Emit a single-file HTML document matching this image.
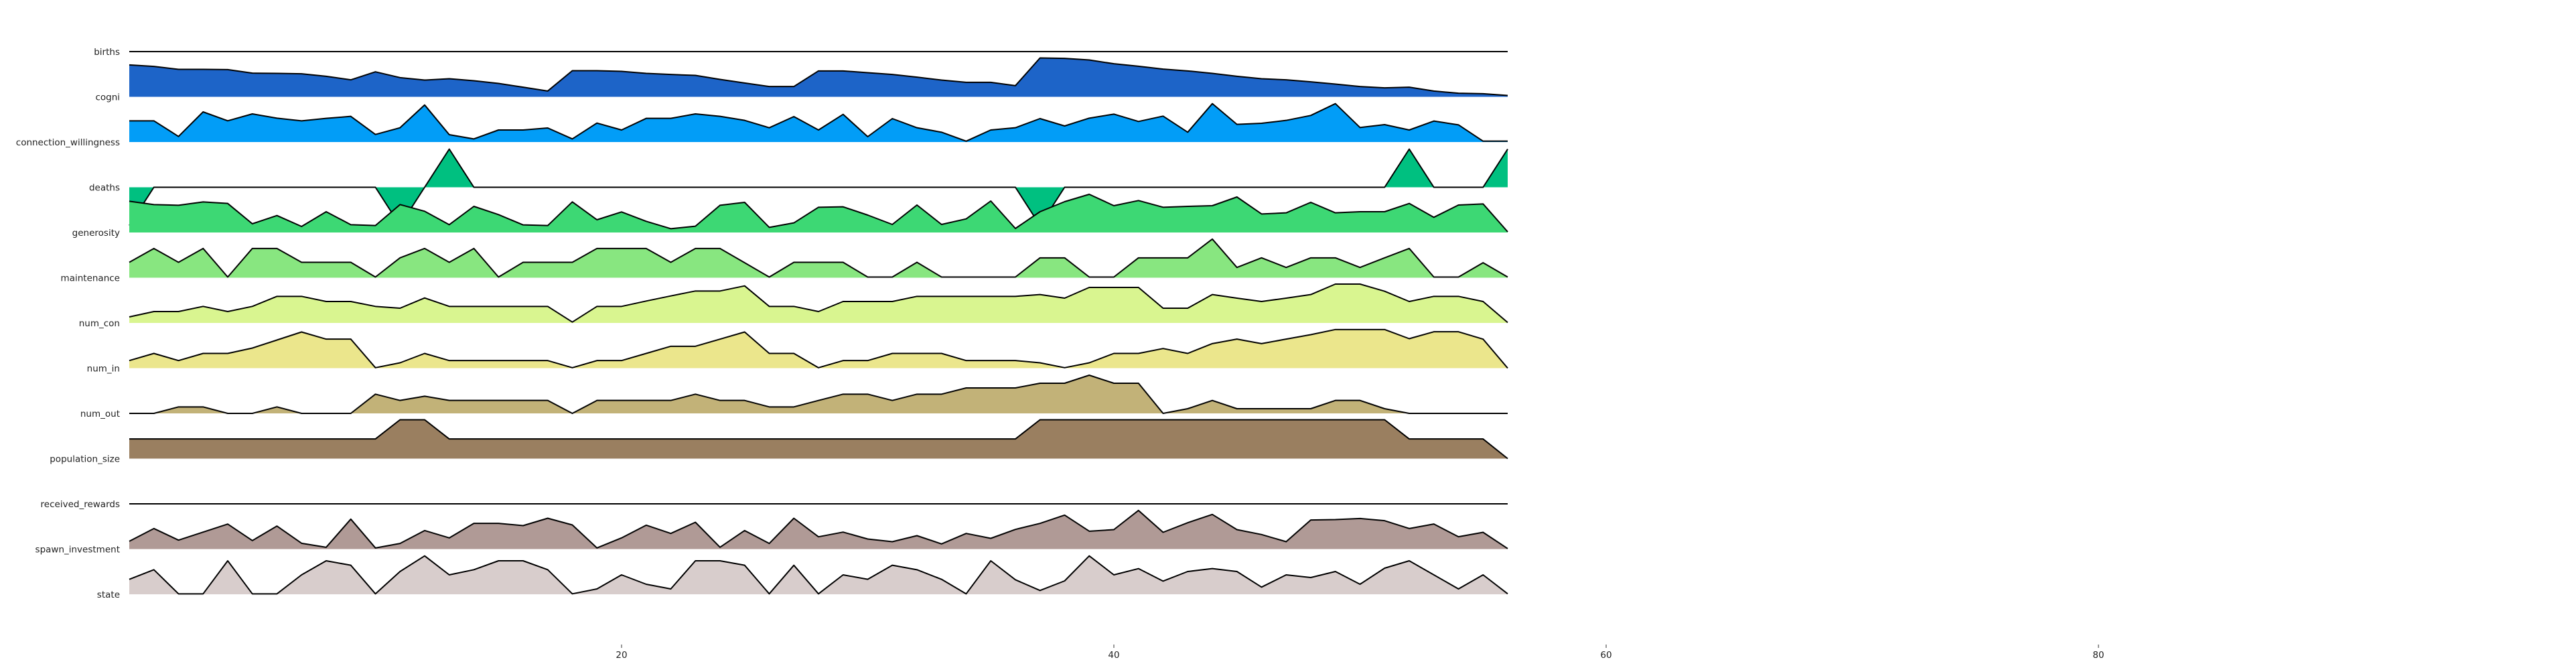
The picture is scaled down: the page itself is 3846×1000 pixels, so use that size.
<!DOCTYPE html>
<html><head><meta charset="utf-8">
<style>
html,body{margin:0;padding:0;background:#fff;}
svg{display:block;}
text{font-family:"DejaVu Sans","Liberation Sans",sans-serif;}
</style></head>
<body>
<svg id="chart" width="3846" height="1000" viewBox="0 0 3846 1000" xmlns="http://www.w3.org/2000/svg">
<g id="rows"></g>
<g id="xaxis"></g>
</svg>
<script>
const seriesNames = ["births","cogni","connection_willingness","deaths","generosity","maintenance","num_con","num_in","num_out","population_size","received_rewards","spawn_investment","state"];
const seriesColors = ["#1a3f8f","#1d64c8","#029df7","#00c080","#3dd874","#88e680","#d9f590","#ebe68c","#c2b278","#9a7f60","#b9a7a4","#b09a96","#d8cdcc"];
const births = new Array(57).fill(0);
const cogni = [143,136,123,123,122,106,105,103,92,76,112,86,75,81,72,60,43,26,117,117,114,105,100,96,78,62,46,46,116,116,108,100,88,75,65,65,50,174,172,165,148,137,124,116,105,92,81,76,67,57,46,40,43,26,16,14,6];
const connectionWillingness = [95,95,25,135,95,126,107,95,106,115,34,64,166,33,14,54,54,63,14,85,54,106,106,126,115,97,64,114,54,124,24,105,64,44,4,54,64,105,72,107,125,92,116,44,172,79,84,97,119,172,65,78,54,94,77,4,4];
const deaths = [-171,0,0,0,0,0,0,0,0,0,0,-171,0,171,0,0,0,0,0,0,0,0,0,0,0,0,0,0,0,0,0,0,0,0,0,0,0,-171,0,0,0,0,0,0,0,0,0,0,0,0,0,0,171,0,0,0,171];
const generosity = [140,125,122,137,130,39,76,27,93,35,31,125,95,35,117,80,34,31,137,57,92,50,17,28,122,135,23,43,113,115,78,36,123,36,61,141,18,93,138,171,120,143,113,117,120,159,83,88,135,88,93,93,130,68,123,128,3];
const maintenance = [69,131,69,131,3,131,131,69,69,69,3,89,131,69,131,3,69,69,69,131,131,131,69,131,131,67,3,69,69,69,3,3,69,3,3,3,3,89,89,3,3,89,89,89,173,46,89,46,89,89,46,89,131,3,3,67,3];
const numCon = [27,51,51,74,51,74,119,119,96,96,74,66,112,74,74,74,74,74,4,74,74,98,121,143,143,166,74,74,51,96,96,96,119,119,119,119,119,127,111,159,159,159,66,66,127,111,96,111,127,174,174,142,96,119,119,96,2];
const numIn = [34,66,34,66,66,90,126,162,130,130,2,24,66,34,34,34,34,34,2,34,34,66,98,98,130,162,66,66,2,34,34,66,66,66,34,34,34,24,2,24,66,66,88,66,110,130,110,130,150,173,173,173,132,163,163,130,0];
const numOut = [0,0,29,29,0,0,29,0,0,0,86,58,77,58,58,58,58,58,0,58,58,58,58,86,58,58,29,29,58,86,86,58,86,86,114,114,114,135,135,171,135,135,0,21,58,21,21,21,21,58,58,21,0,0,0,0,0];
const populationSize = [88,88,88,88,88,88,88,88,88,88,88,174,174,88,88,88,88,88,88,88,88,88,88,88,88,88,88,88,88,88,88,88,88,88,88,88,88,174,174,174,174,174,174,174,174,174,174,174,174,174,174,174,88,88,88,88,0];
const receivedRewards = new Array(57).fill(0);
const spawnInvestment = [35,92,40,76,112,38,103,26,8,134,5,25,83,50,115,115,105,138,108,5,50,107,70,120,8,83,25,138,55,76,45,33,60,23,70,48,88,115,152,80,87,173,75,118,155,87,65,33,130,132,137,127,92,112,55,75,2];
const stateVals = [67,110,2,2,150,2,2,87,150,130,2,102,172,87,110,150,150,110,2,24,87,45,24,150,150,130,2,130,2,87,67,130,110,67,2,150,65,17,60,172,87,115,59,102,115,102,32,87,75,102,45,117,150,87,24,87,2];
const seriesData = [births,cogni,connectionWillingness,deaths,generosity,maintenance,numCon,numIn,numOut,populationSize,receivedRewards,spawnInvestment,stateVals];
const xTicks = [20,40,60,80];

const NS = "http://www.w3.org/2000/svg";
const x0px = 193, pxPerUnit = 36.75;
function xScale(v){ return x0px + v*pxPerUnit; }
function rowBase(i){ return 77 + i*67.5; }
function yScale(i, v){ return rowBase(i) - v/3; }

const rowsG = document.getElementById('rows');
seriesNames.forEach((name, i) => {
  const vals = seriesData[i];
  const g = document.createElementNS(NS,'g');
  
  
  const base = rowBase(i);
  let pts = vals.map((v,k) => xScale(k).toFixed(2) + ',' + yScale(i,v).toFixed(2));
  const area = document.createElementNS(NS,'polygon');
  area.setAttribute('points', xScale(0)+','+base+' '+pts.join(' ')+' '+xScale(vals.length-1)+','+base);
  area.setAttribute('fill', seriesColors[i]);
  
  
  g.appendChild(area);
  const line = document.createElementNS(NS,'polyline');
  line.setAttribute('points', pts.join(' '));
  line.setAttribute('fill', 'none');
  line.setAttribute('stroke', '#000');
  line.setAttribute('stroke-width', '2');
  line.setAttribute('stroke-linejoin', 'round');
  
  
  g.appendChild(line);
  const lbl = document.createElementNS(NS,'text');
  lbl.setAttribute('x', 179);
  lbl.setAttribute('y', base + 5);
  lbl.setAttribute('text-anchor', 'end');
  lbl.setAttribute('font-size', '13.5');
  lbl.setAttribute('fill', '#222');
  lbl.textContent = name;
  
  
  rowsG.appendChild(g);
  rowsG.appendChild(lbl);
});

const axisG = document.getElementById('xaxis');
xTicks.forEach(t => {
  const x = xScale(t);
  const tk = document.createElementNS(NS,'line');
  tk.setAttribute('x1', x); tk.setAttribute('x2', x);
  tk.setAttribute('y1', 962); tk.setAttribute('y2', 967);
  tk.setAttribute('stroke', '#333'); tk.setAttribute('stroke-width', '1');
  
  
  axisG.appendChild(tk);
  const tl = document.createElementNS(NS,'text');
  tl.setAttribute('x', x); tl.setAttribute('y', 982);
  tl.setAttribute('text-anchor', 'middle');
  tl.setAttribute('font-size', '13.5');
  tl.setAttribute('fill', '#222');
  tl.textContent = t;
  
  
  axisG.appendChild(tl);
});
</script>
</body></html>
